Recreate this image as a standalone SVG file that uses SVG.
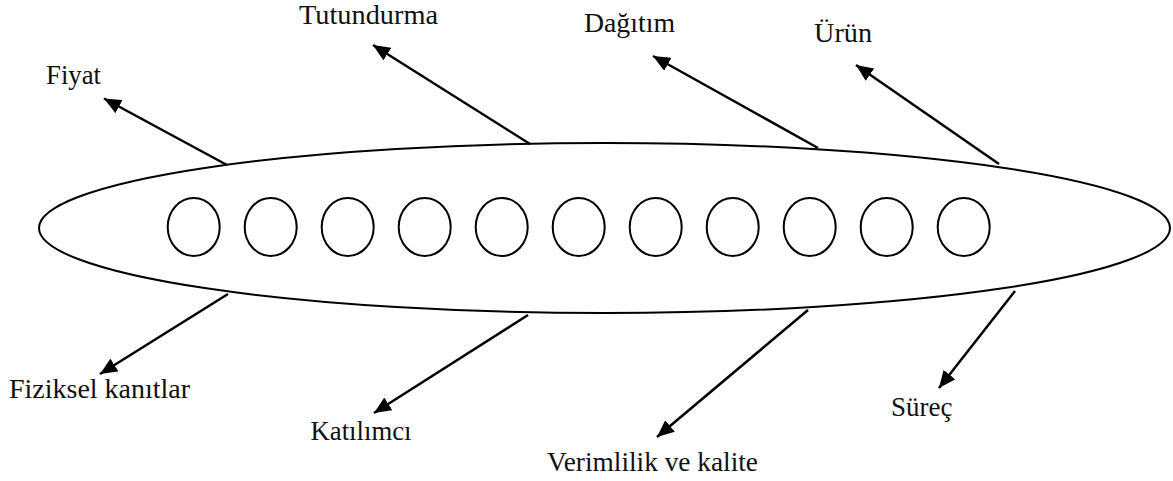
<svg xmlns="http://www.w3.org/2000/svg" width="1173" height="481" viewBox="0 0 1173 481">
  <style>
    .shape { fill: none; stroke: #000; stroke-width: 2; }
    .conn { stroke: #000; stroke-width: 2.5; fill: none; marker-end: url(#arrow); }
    .label { font-family: "Liberation Serif", "DejaVu Serif", serif; font-size: 27px; fill: #111; }
  </style>
  <defs>
    <marker id="arrow" viewBox="0 0 17 15" refX="17" refY="7.5" markerWidth="17" markerHeight="15" markerUnits="userSpaceOnUse" orient="auto">
      <path d="M0,0 L17,7.5 L0,15 z" fill="#000"/>
    </marker>
  </defs>
  <rect width="1173" height="481" fill="#fff"/>

  <g id="body">
    <ellipse class="shape" cx="604.5" cy="228" rx="565.5" ry="85"/>
  </g>
  <g id="circles">
    <ellipse class="shape" cx="193.7" cy="227" rx="26" ry="29"/>
    <ellipse class="shape" cx="270.7" cy="227" rx="26" ry="29"/>
    <ellipse class="shape" cx="347.7" cy="227" rx="26" ry="29"/>
    <ellipse class="shape" cx="424.7" cy="227" rx="26" ry="29"/>
    <ellipse class="shape" cx="501.7" cy="227" rx="26" ry="29"/>
    <ellipse class="shape" cx="578.7" cy="227" rx="26" ry="29"/>
    <ellipse class="shape" cx="655.7" cy="227" rx="26" ry="29"/>
    <ellipse class="shape" cx="732.7" cy="227" rx="26" ry="29"/>
    <ellipse class="shape" cx="809.7" cy="227" rx="26" ry="29"/>
    <ellipse class="shape" cx="886.7" cy="227" rx="26" ry="29"/>
    <ellipse class="shape" cx="963.7" cy="227" rx="26" ry="29"/>
  </g>

  <g id="connectors">
    <line class="conn" x1="227" y1="165" x2="104" y2="98.5"/>
    <line class="conn" x1="530" y1="144" x2="373" y2="45"/>
    <line class="conn" x1="818" y1="148" x2="653" y2="56"/>
    <line class="conn" x1="999" y1="164" x2="856" y2="65"/>
    <line class="conn" x1="228" y1="294" x2="100" y2="374"/>
    <line class="conn" x1="528" y1="315" x2="374" y2="413"/>
    <line class="conn" x1="808" y1="310" x2="657" y2="437"/>
    <line class="conn" x1="1015" y1="291" x2="939" y2="388"/>
  </g>

  <g id="label-fiyat"><text class="label" x="46" y="84" textLength="55" lengthAdjust="spacingAndGlyphs">Fiyat</text></g>
  <g id="label-tutundurma"><text class="label" x="299" y="23.5" textLength="139" lengthAdjust="spacingAndGlyphs">Tutundurma</text></g>
  <g id="label-dagitim"><text class="label" x="584" y="32" textLength="91" lengthAdjust="spacingAndGlyphs">Dağıtım</text></g>
  <g id="label-urun"><text class="label" x="814" y="42" textLength="58" lengthAdjust="spacingAndGlyphs">Ürün</text></g>
  <g id="label-fiziksel"><text class="label" x="9" y="398" textLength="181" lengthAdjust="spacingAndGlyphs">Fiziksel kanıtlar</text></g>
  <g id="label-katilimci"><text class="label" x="310.5" y="440" textLength="101" lengthAdjust="spacingAndGlyphs">Katılımcı</text></g>
  <g id="label-verimlilik"><text class="label" x="547" y="471" textLength="211" lengthAdjust="spacingAndGlyphs">Verimlilik ve kalite</text></g>
  <g id="label-surec"><text class="label" x="891" y="416">Süreç</text></g>
</svg>
